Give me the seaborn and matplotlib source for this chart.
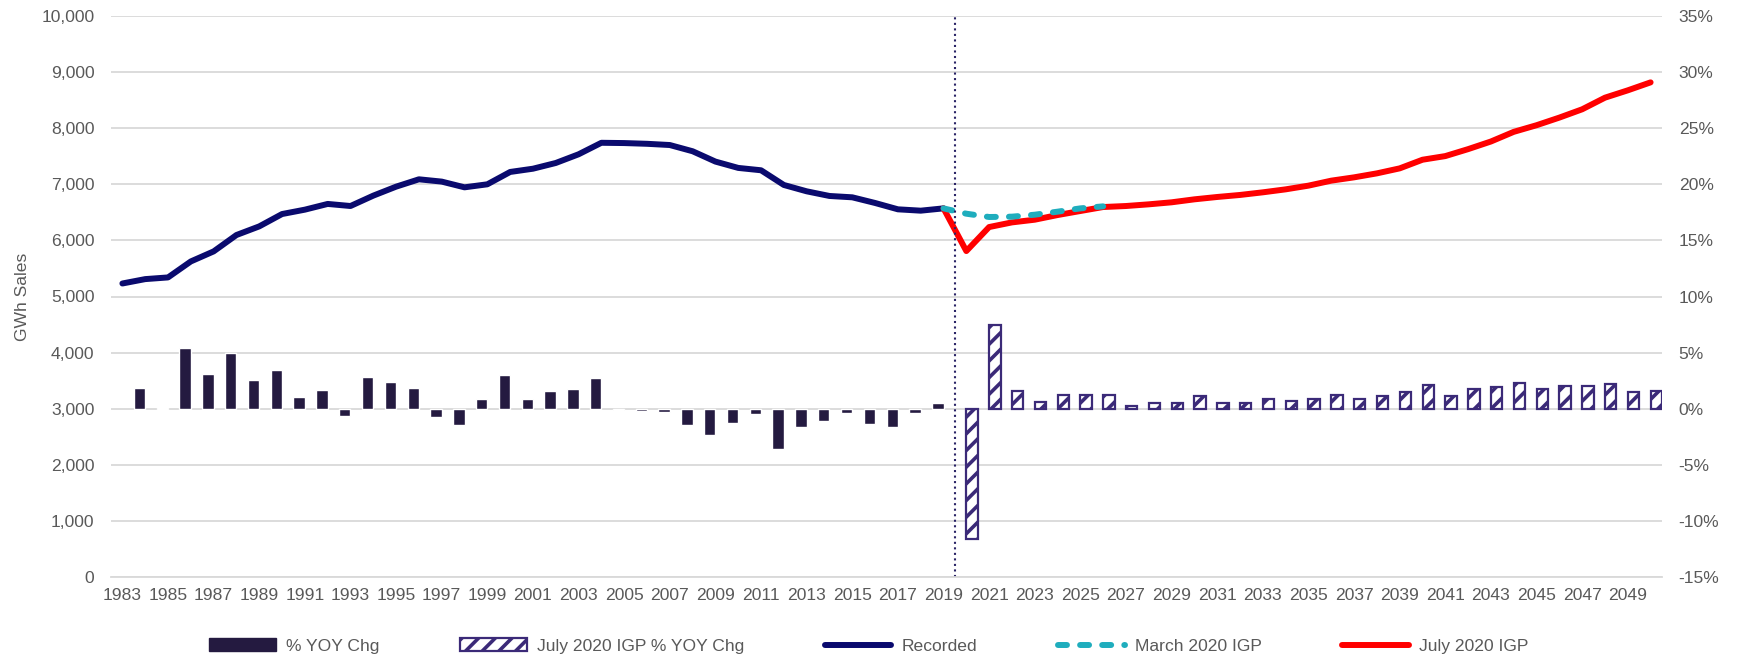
import seaborn as sns
import matplotlib.pyplot as plt
from matplotlib.patches import Patch
from matplotlib.lines import Line2D
from matplotlib.ticker import FuncFormatter
import pandas as pd
import numpy as np

sns.set_style('white')
plt.rcParams['font.family'] = ['Liberation Sans', 'DejaVu Sans']
plt.rcParams['hatch.color'] = '#3b2a78'
plt.rcParams['hatch.linewidth'] = 2.6

years = list(range(1983, 2051))

# GWh sales
recorded_years = list(range(1983, 2020))
recorded_gwh = [5232, 5310, 5340, 5625, 5804, 6096, 6250, 6470, 6548, 6650,
                6613, 6798, 6958, 7089, 7048, 6946, 7000, 7220, 7278, 7380,
                7535, 7740, 7735, 7722, 7700, 7589, 7405, 7292, 7250, 6988,
                6875, 6792, 6768, 6667, 6554, 6530, 6571]
march_years = list(range(2019, 2027))
march_gwh = [6571, 6476, 6417, 6423, 6458, 6512, 6571, 6607]
july_years = list(range(2019, 2051))
july_gwh = [6571, 5810, 6238, 6321, 6369, 6452, 6524, 6595, 6613, 6643,
            6679, 6732, 6774, 6810, 6857, 6910, 6976, 7065, 7124, 7195,
            7284, 7438, 7503, 7627, 7763, 7935, 8053, 8189, 8337, 8544,
            8675, 8817]

# % YOY change
yoy_years = list(range(1984, 2020))
yoy_pct = [1.88, 0.06, 5.39, 3.13, 5.0, 2.59, 3.42, 1.01, 1.70, -0.68,
           2.83, 2.41, 1.82, -0.74, -1.49, 0.83, 3.04, 0.86, 1.55, 1.76,
           2.75, -0.1, -0.2, -0.3, -1.47, -2.35, -1.27, -0.5, -3.6, -1.67,
           -1.08, -0.4, -1.4, -1.66, -0.36, 0.55]
july_yoy_years = list(range(2020, 2051))
july_yoy_pct = [-11.6, 7.45, 1.57, 0.62, 1.25, 1.25, 1.25, 0.2, 0.53, 0.53,
                1.13, 0.53, 0.53, 0.84, 0.66, 0.85, 1.21, 0.82, 1.09, 1.45,
                2.08, 1.12, 1.72, 1.90, 2.27, 1.75, 2.02, 1.99, 2.21, 1.48,
                1.54]

bar_labels = ['% YOY Chg', 'July 2020 IGP % YOY Chg']
bars_df = pd.concat([
    pd.DataFrame({'year': yoy_years, 'pct': yoy_pct, 'series': bar_labels[0]}),
    pd.DataFrame({'year': july_yoy_years, 'pct': july_yoy_pct, 'series': bar_labels[1]}),
])

dark = '#241a40'
purple = '#3b2a78'
navy = '#0a0a6e'
teal = '#1fadbd'
red = '#ff0000'
grey = '#595959'
fs = 12.6
teal_dash = (0, (1.5, 2.2))

fig = plt.figure(figsize=(17.38, 6.64), dpi=100)
ax = fig.add_axes([111 / 1738, 1 - 577 / 664, 1551 / 1738, 561 / 664])
ax2 = ax.twinx()

sns.barplot(data=bars_df, x='year', y='pct', hue='series', hue_order=bar_labels,
            order=years, palette=[dark, 'white'], width=1.0, dodge=True,
            saturation=1, legend=False, ax=ax2)
for p in ax2.containers[1]:
    p.set_facecolor('white')
    p.set_edgecolor(purple)
    p.set_linewidth(1.6)
    p.set_hatch('//')

sns.lineplot(x=[y - 1983 for y in recorded_years], y=recorded_gwh, ax=ax,
             color=navy, lw=4.3, solid_capstyle='round')
sns.lineplot(x=[y - 1983 for y in july_years], y=july_gwh, ax=ax,
             color=red, lw=4.3, solid_capstyle='round')
sns.lineplot(x=[y - 1983 for y in march_years], y=march_gwh, ax=ax,
             color=teal, lw=4.3, linestyle=teal_dash, dash_capstyle='round')
ax.axvline(36.5, color='#2a2466', ls=':', lw=1.5)

ax.set_ylim(0, 10000)
ax2.set_ylim(-15, 35)
ax.set_xlim(-0.5, 67.5)
ax.set_yticks(np.arange(0, 10001, 1000))
ax2.set_yticks(np.arange(-15, 36, 5))
ax.yaxis.set_major_formatter(FuncFormatter(lambda v, p: f'{int(v):,}'))
ax2.yaxis.set_major_formatter(FuncFormatter(lambda v, p: f'{int(v)}%'))

ax.set_xticks(range(0, 68, 2))
ax.set_xticklabels([str(y) for y in years[::2]])
ax.set_xticks(np.arange(-0.5, 68, 1), minor=True)
ax.tick_params(axis='x', which='major', length=0, pad=8, labelsize=fs, labelcolor=grey)
ax.tick_params(axis='x', which='minor', length=5, color='#bfbfbf', width=1.2)
ax.tick_params(axis='y', length=0, pad=12, labelsize=fs, labelcolor=grey)
ax2.tick_params(axis='y', length=0, pad=12, labelsize=fs, labelcolor=grey)
ax.set_xlabel('')
ax2.set_xlabel('')
ax2.set_ylabel('')
ax.set_ylabel('GWh Sales', fontsize=fs, color=grey)
ax.yaxis.set_label_coords(-0.0523, 0.5)

ax2.yaxis.grid(True, color='#d9d9d9', lw=1.3)
ax2.set_axisbelow(True)
ax.set_zorder(ax2.get_zorder() + 1)
ax.patch.set_visible(False)
for a in (ax, ax2):
    for s in ['top', 'left', 'right', 'bottom']:
        a.spines[s].set_visible(False)
ax.spines['bottom'].set_visible(True)
ax.spines['bottom'].set_color('#d9d9d9')
ax.spines['bottom'].set_linewidth(1.3)

handles = [
    Patch(facecolor=dark, edgecolor=dark),
    Patch(facecolor='white', edgecolor=purple, hatch='//', linewidth=1.6),
    Line2D([], [], color=navy, lw=4.3),
    Line2D([], [], color=teal, lw=4.3, linestyle=teal_dash, dash_capstyle='round'),
    Line2D([], [], color=red, lw=4.3, solid_capstyle='round'),
]
labels = bar_labels + ['Recorded', 'March 2020 IGP', 'July 2020 IGP']
leg = fig.legend(handles, labels, loc='center', bbox_to_anchor=(0.5, 1 - 646 / 664),
                 ncol=5, frameon=False, fontsize=fs, handlelength=3.8,
                 handletextpad=0.6, columnspacing=4.6, labelcolor=grey)

fig.savefig('out.png', dpi=100, facecolor='white')
